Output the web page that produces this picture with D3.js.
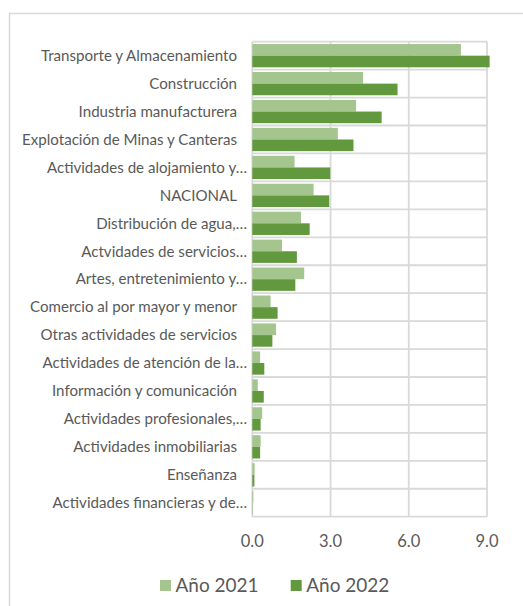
<!DOCTYPE html>
<html>
<head>
<meta charset="utf-8">
<script src="https://cdn.jsdelivr.net/npm/d3@7"></script>
<style>
  body { margin: 0; background: #fff; }
  text { font-family: Lato, "Open Sans", sans-serif; fill: #595959; }
</style>
</head>
<body>
<div id="app"></div>
<script>
// categorías (de arriba hacia abajo)
const categories = [
  "Transporte y Almacenamiento",
  "Construcción",
  "Industria manufacturera",
  "Explotación de Minas y Canteras",
  "Actividades de alojamiento y…",
  "NACIONAL",
  "Distribución de agua,…",
  "Actvidades de servicios…",
  "Artes, entretenimiento y…",
  "Comercio al por mayor y menor",
  "Otras actividades de servicios",
  "Actividades de atención de la…",
  "Información y comunicación",
  "Actividades profesionales,…",
  "Actividades inmobiliarias",
  "Enseñanza",
  "Actividades financieras y de…"
];

const series = ["Año 2021", "Año 2022"];
const values2021 = [8.0, 4.25, 3.98, 3.28, 1.62, 2.35, 1.87, 1.14, 1.99, 0.70, 0.91, 0.30, 0.21, 0.38, 0.32, 0.09, 0.04];
const values2022 = [9.1, 5.57, 4.96, 3.88, 2.99, 2.95, 2.20, 1.71, 1.65, 0.97, 0.77, 0.46, 0.44, 0.32, 0.30, 0.08, 0.01];
const xTicks = [0, 3, 6, 9];
const colors = ["#A5C58F", "#62993E"];

const width = 523, height = 606;

const svg = d3.select("#app").append("svg")
  .attr("width", width)
  .attr("height", height);

// borde exterior del gráfico
svg.append("rect")
  .attr("x", 9.5).attr("y", 13.5)
  .attr("width", 600).attr("height", 700)
  .attr("fill", "none")
  .attr("stroke", "#D9D9D9")
  .attr("stroke-width", 1.5);

const x = d3.scaleLinear().domain([0, 9]).range([252.3, 487]);
const y = d3.scaleBand().domain(categories).range([41.7, 516.7]);
const ySub = d3.scaleBand().domain(series).range([0, y.bandwidth()]).paddingOuter(0.2);

// líneas de cuadrícula
const grid = svg.append("g").attr("stroke", "#D9D9D9").attr("stroke-width", 1.8);
xTicks.forEach(t => {
  grid.append("line")
    .attr("x1", x(t)).attr("x2", x(t))
    .attr("y1", y.range()[0]).attr("y2", y.range()[1]);
});
categories.concat([null]).forEach((c, i) => {
  const yy = y.range()[0] + i * y.step();
  grid.append("line")
    .attr("x1", x(0)).attr("x2", x(9))
    .attr("y1", yy).attr("y2", yy);
});

// barras
const rows = categories.map((c, i) => ({ cat: c, vals: [values2021[i], values2022[i]] }));
const rowG = svg.append("g").selectAll("g")
  .data(rows)
  .join("g")
  .attr("transform", d => `translate(0,${y(d.cat)})`);

rowG.selectAll("rect")
  .data(d => d.vals.map((v, k) => ({ s: series[k], v, k })))
  .join("rect")
  .attr("x", x(0))
  .attr("y", d => ySub(d.s))
  .attr("width", d => x(d.v) - x(0))
  .attr("height", ySub.bandwidth())
  .attr("fill", d => colors[d.k]);

// etiquetas de categoría
svg.append("g").selectAll("text")
  .data(categories)
  .join("text")
  .attr("x", d => d.endsWith("…") ? 247 : 237)
  .attr("y", d => y(d) + y.bandwidth() / 2)
  .attr("dy", "0.35em")
  .attr("text-anchor", "end")
  .attr("font-size", 15.1)
  .text(d => d);

// etiquetas del eje X
svg.append("g").selectAll("text")
  .data(xTicks)
  .join("text")
  .attr("x", d => x(d))
  .attr("y", 541.5)
  .attr("dy", "0.35em")
  .attr("text-anchor", "middle")
  .attr("font-size", 16.5)
  .text(d => d.toFixed(1));

// leyenda
const legendX = [160, 290.7];
const legend = svg.append("g").selectAll("g")
  .data(series)
  .join("g")
  .attr("transform", (d, i) => `translate(${legendX[i]},580)`);
legend.append("rect")
  .attr("width", 11).attr("height", 11)
  .attr("fill", (d, i) => colors[i]);
legend.append("text")
  .attr("x", 15.5).attr("y", 5.5)
  .attr("dy", "0.35em")
  .attr("font-size", 19)
  .text(d => d);
</script>
</body>
</html>
